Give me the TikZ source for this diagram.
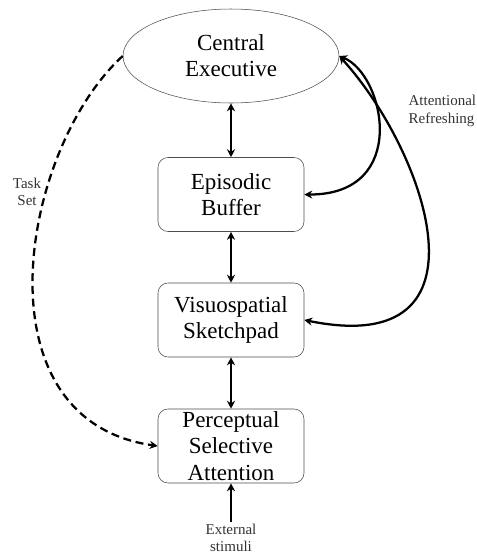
\documentclass[tikz,border=0pt]{standalone}
\usepackage{fontspec}
\setmainfont{Liberation Serif}
\usepackage{tikz}
\usetikzlibrary{positioning, arrows.meta, shapes.geometric}

\begin{document}
\begin{tikzpicture}[
    x=0.75pt, y=-0.75pt,
    part/.style={rectangle, draw=black!70, rounded corners=7.5pt, minimum width=109.5pt, minimum height=55.5pt, inner sep=0pt, align=center, font=\fontsize{17.25pt}{19.9pt}\selectfont},
    exec/.style={ellipse, draw=black!70, minimum width=162pt, minimum height=70.5pt, inner sep=0pt, align=center, font=\fontsize{17.25pt}{19.5pt}\selectfont},
    note/.style={inner sep=1pt, align=center, font=\fontsize{11.25pt}{13pt}\selectfont, text=black!80},
    arrow/.style={line width=1.7pt, -{Stealth[length=6pt, width=6pt]}},
    both/.style={line width=1.7pt, {Stealth[length=6pt, width=6pt]}-{Stealth[length=6pt, width=6pt]}}
]
\useasboundingbox (0,0) rectangle (476,558);

\node[exec] (central) at (231,56) {Central\\Executive};

\node[part] (episodic) at (231,194.5) {Episodic\\Buffer};
\node[part] (visuo) at (231,320) {Visuospatial\\Sketchpad};
\node[part] (percept) at (231,446) {Perceptual\\Selective\\Attention};

\node[note] (stimuli) at (231,538) {External\\stimuli};
\node[note] (taskset) at (27,192) {Task\\Set};
\node[note, anchor=west, align=left] (refresh) at (407,111) {Attentional\\Refreshing};

\draw[both] (central) -- (episodic);
\draw[both] (episodic) -- (visuo);
\draw[both] (visuo) -- (percept);
\draw[arrow] (stimuli) -- (percept);

% attentional refreshing loops
\draw[both] (central.east) .. controls (385,75) and (410,195) .. (episodic.east);
\draw[both] (central.east) .. controls (425,150) and (500,360) .. (visuo.east);

% task set
\draw[arrow, dashed, dash pattern=on 6pt off 3.5pt] (central.west) .. controls (20,150) and (-25,420) .. (percept.west);

\end{tikzpicture}
\end{document}
